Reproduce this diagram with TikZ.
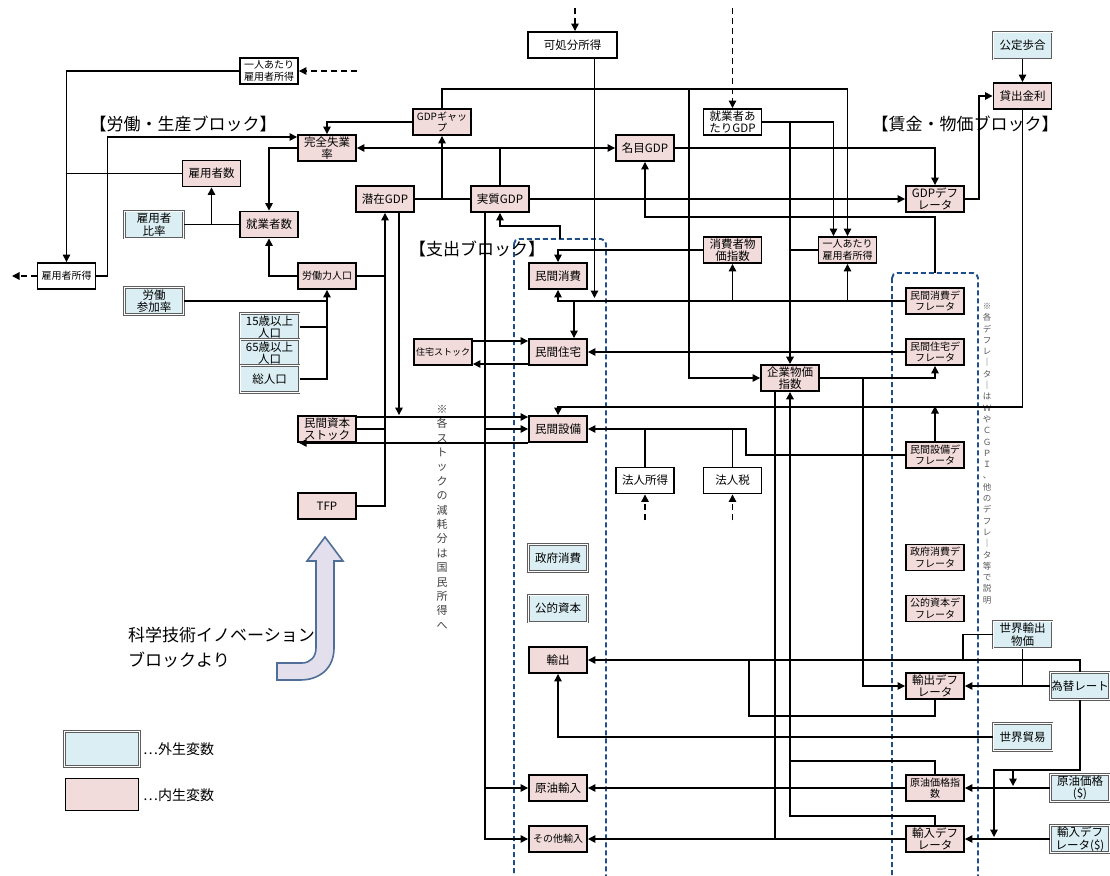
\documentclass[tikz,border=0pt]{standalone}
\usepackage{fontspec}
\setmainfont{Noto Sans CJK JP}
\usetikzlibrary{arrows.meta}
\definecolor{pinkc}{HTML}{F2DCDB}
\definecolor{bluec}{HTML}{DAEEF3}
\definecolor{grayc}{HTML}{5E5E5E}
\definecolor{dashc}{HTML}{1F4F88}
\definecolor{arrfill}{HTML}{E4DFEC}
\definecolor{arrdraw}{HTML}{4F6F98}
\newcommand{\fsz}[2]{\fontsize{#1}{#2}\selectfont}
\pgfdeclarelayer{bg}
\pgfsetlayers{bg,main}
\begin{document}
\begin{tikzpicture}[x=1pt,y=-1pt,
 boxbase/.style={rectangle, minimum width=58pt, minimum height=26pt, inner sep=0pt, align=center, font=\fsz{11.5}{12.5}},
 endo/.style={boxbase, fill=pinkc, draw=black, line width=1.9pt},
 exo/.style={boxbase, fill=bluec, draw=grayc, double=white, double distance=0.8pt, line width=1pt, minimum width=59pt, minimum height=27pt},
 wbox/.style={boxbase, fill=white, draw=black, line width=1.9pt},
 fsmall/.style={font=\fsz{10}{11.5}},
 ftiny/.style={font=\fsz{9}{10}},
 conn/.style={line width=1.35pt},
 thk/.style={line width=2pt},
 arr/.style={conn, -{Triangle[length=7.5pt,width=7.5pt]}},
 darr/.style={arr, dash pattern=on 6pt off 4pt},
 blk/.style={font=\fsz{17}{20}, inner sep=0pt},
 dbox/.style={draw=dashc, line width=1.9pt, dash pattern=on 5pt off 3pt, rounded corners=5pt},
]
\useasboundingbox (0,0) rectangle (1110,875);
\begin{pgfonlayer}{bg}
\fill[white] (0,0) rectangle (1110,875);
\draw[dbox] (514,239) rectangle (606,890);
\draw[dbox] (892,273) rectangle (978,890);
\end{pgfonlayer}

% ---------- nodes ----------
\node[wbox,fsmall] (n1) at (269,71) {一人あたり\\雇用者所得};
\node[wbox,fsmall] (kyuyo) at (66.5,276) {雇用者所得};
\node[endo] (shitsugyo) at (327,148) {完全失業\\率};
\node[endo] (koyosha) at (211.5,173.5) {雇用者数};
\node[exo] (hiritsu) at (154,224.5) {雇用者\\比率};
\node[endo] (shugyo) at (269,224.5) {就業者数};
\node[endo,fsmall] (rodo) at (327,276) {労働力人口};
\node[exo] (sanka) at (154,301) {労働\\参加率};
\node[exo] (p15) at (269.5,327) {15歳以上\\人口};
\node[exo] (p65) at (269.5,353) {65歳以上\\人口};
\node[exo] (sojinko) at (269.5,379) {総人口};
\node[endo] (senzai) at (385,199) {潜在GDP};
\node[endo,fsmall] (gap) at (442,122) {GDPギャッ\\プ};
\node[endo] (jisshitsu) at (500,199) {実質GDP};
\node[endo] (meimoku) at (645,148) {名目GDP};
\node[wbox, minimum width=89pt] (kashobun) at (572.5,45) {可処分所得};
\node[wbox] (shugyoGDP) at (732.5,122) {就業者あ\\たりGDP};
\node[endo] (gdpdef) at (935,199) {GDPデフ\\レータ};
\node[endo] (kashidashi) at (1022.5,96) {貸出金利};
\node[exo] (kotei) at (1022.5,45.5) {公定歩合};
\node[endo,fsmall] (n2) at (847.5,250) {一人あたり\\雇用者所得};
\node[endo] (cpi) at (732.5,250) {消費者物\\価指数};
\node[endo] (minshohi) at (558,276) {民間消費};
\node[endo] (minjutaku) at (558,352) {民間住宅};
\node[endo,ftiny] (jstock) at (443,352) {住宅ストック};
\node[endo] (minsetsubi) at (558,429) {民間設備};
\node[endo] (kstock) at (327,429) {民間資本\\ストック};
\node[endo] (tfp) at (327,506) {TFP};
\node[endo] (kigyo) at (790,378) {企業物価\\指数};
\node[wbox] (hshotoku) at (645,480.5) {法人所得};
\node[wbox] (hzei) at (732.5,480.5) {法人税};
\node[endo,fsmall] (dshohi) at (935,301) {民間消費デ\\フレータ};
\node[endo,fsmall] (djutaku) at (935,352) {民間住宅デ\\フレータ};
\node[endo,fsmall] (dsetsubi) at (935,455) {民間設備デ\\フレータ};
\node[endo,fsmall] (dseifu) at (935,557.5) {政府消費デ\\フレータ};
\node[endo,fsmall] (dkoteki) at (935,608.5) {公的資本デ\\フレータ};
\node[endo] (dyushutsu) at (935,686) {輸出デフ\\レータ};
\node[endo,fsmall] (dgenyu) at (935,788) {原油価格指\\数};
\node[endo] (dyunyu) at (935,839) {輸入デフ\\レータ};
\node[exo] (seifu) at (558,558) {政府消費};
\node[exo] (koteki) at (558,608.5) {公的資本};
\node[endo] (yushutsu) at (558,660) {輸出};
\node[endo] (genyu) at (558,788) {原油輸入};
\node[endo,fsmall] (sonota) at (558,839) {その他輸入};
\node[exo] (sekaiy) at (1022.5,634.5) {世界輸出\\物価};
\node[exo] (kawase) at (1080,686) {為替レート};
\node[exo] (boeki) at (1022.5,737) {世界貿易};
\node[exo] (genyud) at (1080,788) {原油価格\\(\$)};
\node[exo] (yunyud) at (1080,839) {輸入デフ\\レータ(\$)};

% ---------- labels ----------
\node[blk] (lab1) at (183,124) {【労働・生産ブロック】};
\node[blk] (lab2) at (965,124) {【賃金・物価ブロック】};
\node[blk] (lab3) at (477,249) {【支出ブロック】};
\node[font=\fsz{11}{14.4}, text=black!75, align=center, anchor=north, inner sep=0pt] (note1) at (442,405)
 {※\\各\\ス\\ト\\ッ\\ク\\の\\減\\耗\\分\\は\\国\\民\\所\\得\\へ};
\node[font=\fsz{8.5}{11.3}, text=black!65, align=center, anchor=north, inner sep=0pt] (note2) at (987,303)
 {※\\各\\デ\\フ\\レ\\｜\\タ\\｜\\は\\Ｗ\\や\\Ｃ\\Ｇ\\Ｐ\\Ｉ\\、\\他\\の\\デ\\フ\\レ\\｜\\タ\\等\\で\\説\\明};

% big arrow from innovation block
\draw[fill=arrfill, draw=arrdraw, line width=1.6pt]
 (325,537) -- (343,561) -- (334,561) -- (334,648)
 .. controls (334,668) and (320,680) .. (300,680) -- (277,680) -- (277,663) -- (302,663)
 .. controls (310,663) and (316,657) .. (316,648) -- (316,561) -- (307,561) -- cycle;
\node[font=\fsz{17}{25}, align=left, anchor=north west, inner sep=0pt] (inno) at (128,627) {科学技術イノベーション\\ブロックより};

% legend
\node[exo, minimum width=75pt, minimum height=35pt, line width=1.3pt] (legexo) at (102,749) {};
\node[endo, minimum width=73pt, minimum height=32pt] (legendo) at (102,794.5) {};
\node[font=\fsz{14}{16}, anchor=west, inner sep=0pt] (legt1) at (143,749) {…外生変数};
\node[font=\fsz{14}{16}, anchor=west, inner sep=0pt] (legt2) at (143,795) {…内生変数};

% ---------- coordinates ----------
\coordinate (d1) at (357,71);
\coordinate (d2) at (12,276);
\coordinate (d3) at (575,8);
\coordinate (d4) at (732.5,8);
\coordinate (s399) at ([xshift=14pt]senzai.south);
\coordinate (j485) at ([xshift=-15pt]jisshitsu.south);
\coordinate (j689) at (689,90);
\coordinate (j594) at ([xshift=22pt]kashobun.south);
\coordinate (b594) at (594.5,298);
\coordinate (dbtop) at (935,273);
\coordinate (ebtop) at (560,239);
\coordinate (j574) at (574,301);
\coordinate (j863) at (863,378);
\coordinate (j775) at ([xshift=-15pt]kigyo.south);
\coordinate (j761) at (790,761);
\coordinate (j716) at (749,716);
\coordinate (j660) at (749,660);
\coordinate (j963) at (963,660);
\coordinate (j994) at (994,837);
\coordinate (j1013a) at (1013,769);
\coordinate (j1013b) at (1013,786);

% ---------- connectors ----------
\draw[darr] (d1) -- (n1.east);
\draw[arr] (n1.west) -| (kyuyo.north);
\draw[conn] (koyosha.west) -- (kyuyo.north |- koyosha.west);
\draw[darr] (kyuyo.west) -- (d2);
\draw[arr] (kyuyo.east) -- ++(11,0) |- ([yshift=11pt]shitsugyo.west);
\draw[arr] (shitsugyo.west) -| (shugyo.north);
\draw[conn] (hiritsu.east) -- (shugyo.west);
\draw[arr] (koyosha.south |- hiritsu.east) -- (koyosha.south);
\draw[arr] (rodo.west) -| (shugyo.south);
\draw[arr] (sanka.east) -| (rodo.south);
\draw[conn] (p15.east) -- (rodo.south |- p15.east);
\draw[conn] (sojinko.east) -| (rodo.south |- sanka.east);
\draw[conn] (rodo.east) -- (senzai.south |- rodo.east);
\draw[arr] (tfp.east) -| (senzai.south);
\draw[conn] (kstock.east) -- (senzai.south |- kstock.east);
\draw[arr] ([yshift=12pt]kstock.east) -- ([yshift=12pt]minsetsubi.west);
\draw[arr] (s399) -- (s399 |- minsetsubi.north);
\draw[arr] (minsetsubi.south west) -- ([xshift=2pt]kstock.south west);

\draw[arr] (j485) |- (sonota.west);
\draw[arr] (j485 |- minsetsubi.west) -- (minsetsubi.west);
\draw[arr] (j485 |- genyu.west) -- (genyu.west);
\draw[conn] (senzai.east) -- (jisshitsu.west);
\draw[arr] (gap.south |- senzai.east) -- (gap.south);
\draw[arr] (gap.west) -| (shitsugyo.north);
\draw[arr] (jisshitsu.north) |- (shitsugyo.east);
\draw[arr] (jisshitsu.north |- meimoku.west) -- (meimoku.west);
\draw[arr] (gap.north) -- ++(0,-19) -| (n2.north);
\draw[arr] (j689) |- (kigyo.west);

\draw[arr] (j594) -- (b594);
\draw[darr] (d3) -- (d3 |- kashobun.north);
\draw[darr] (d4) -- (shugyoGDP.north);
\draw[arr] (shugyoGDP.east) -| ([xshift=-14pt]n2.north);
\draw[arr,thk] (kigyo.north |- shugyoGDP.east) -- (kigyo.north);
\draw[conn] (n2.west) -- (kigyo.north |- n2.west);
\draw[arr] (meimoku.east) -| (gdpdef.north);
\draw[arr] (jisshitsu.east) -- (gdpdef.west);
\draw[arr] (gdpdef.east) -- ++(14,0) |- (kashidashi.west);
\draw[arr] (kotei.south) -- (kashidashi.north);
\draw[arr] (kashidashi.south) -- ++(0,297) -| (minsetsubi.north);
\draw[arr] (dsetsubi.north) -- ++(0,-35);
\draw[arr] (dbtop) -- ++(0,-56) -| (meimoku.south);
\draw[arr] (ebtop) -- ++(0,-13) -| (jisshitsu.south);

\draw[arr] (cpi.west) -| (minshohi.north);
\draw[arr] (dshohi.west) -| (minshohi.south);
\draw[arr] (j574) -- (j574 |- minjutaku.north);
\draw[arr] (cpi.south |- dshohi.west) -- (cpi.south);
\draw[arr] (n2.south |- dshohi.west) -- (n2.south);
\draw[arr] (djutaku.west) -- (minjutaku.east);
\draw[arr] ([yshift=11pt]jstock.east) -- ([yshift=11pt]minjutaku.west);
\draw[arr] ([yshift=-12pt]minjutaku.west) -- ([yshift=-12pt]jstock.east);
\draw[arr] (kigyo.east) -| (djutaku.south);
\draw[arr] (j863) |- (dyushutsu.west);
\draw[arr] (dsetsubi.west) -- ++(-159,0) |- (minsetsubi.east);
\draw[conn] (hshotoku.north) -- (hshotoku.north |- minsetsubi.east);
\draw[conn] (hzei.north) -- (hzei.north |- minsetsubi.east);
\draw[darr] ([yshift=-26pt]hshotoku.south) -- (hshotoku.south);
\draw[darr] ([yshift=-26pt]hzei.south) -- (hzei.south);

\draw[conn] (j775) -- (j775 |- sonota.east);
\draw[arr,thk] (dyunyu.north) -- ++(0,-9) -| (kigyo.south);
\draw[conn] (dgenyu.north) |- (j761);
\draw[conn] (dyushutsu.south) |- (j716) -- (j660);
\draw[arr] (kawase.north) |- (yushutsu.east);
\draw[conn] (sekaiy.west) -| (j963);
\draw[arr] (sekaiy.south) |- (dyushutsu.east);
\draw[conn] (kawase.west) -- (sekaiy.south |- kawase.west);
\draw[arr] (boeki.west) -| (yushutsu.south);
\draw[arr] (dgenyu.west) -- (genyu.east);
\draw[arr] (genyud.west) -- (dgenyu.east);
\draw[arr] (dyunyu.west) -- (sonota.east);
\draw[arr] (yunyud.west) -- (dyunyu.east);
\draw[arr] (kawase.south) -- ++(0,70) -| (j994);
\draw[arr] (j1013a) -- (j1013b);
\end{tikzpicture}
\end{document}
